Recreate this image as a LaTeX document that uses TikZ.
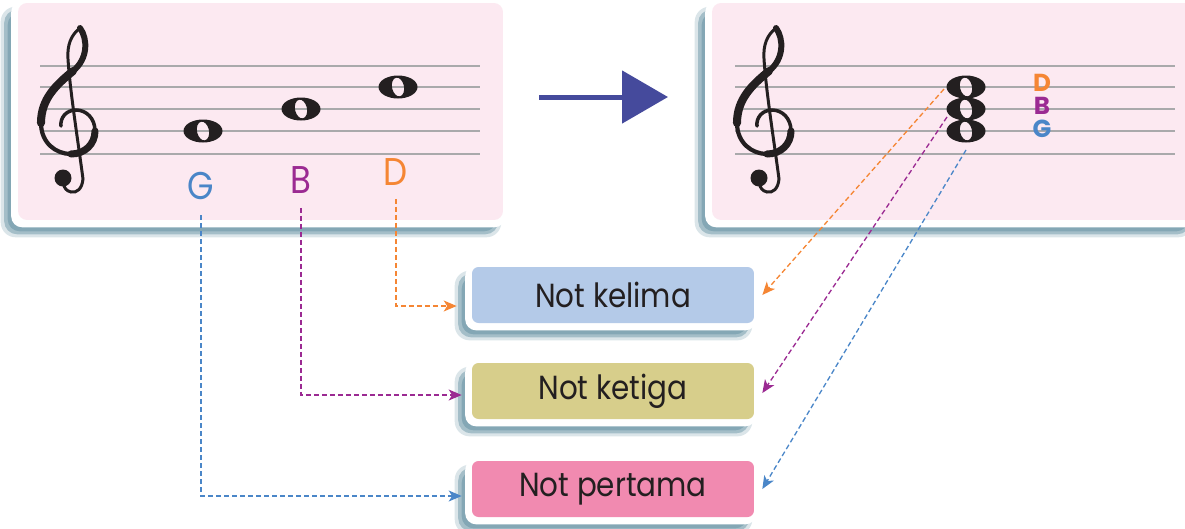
\documentclass[tikz,border=0pt]{standalone}
\usepackage{fontspec}
\setmainfont{Poppins}
\newfontfamily\narrowfont{Poppins}[FakeStretch=0.88]
\usetikzlibrary{arrows.meta,backgrounds,positioning}
\definecolor{panelpink}{HTML}{FCE9F1}
\definecolor{cardshade}{HTML}{6E98A8}
\definecolor{staffgray}{HTML}{A9A9AB}
\definecolor{arrowblue}{HTML}{454A9C}
\definecolor{inkblack}{HTML}{231F20}
\definecolor{rootblue}{HTML}{4A86C8}
\definecolor{thirdpurple}{HTML}{9B2A92}
\definecolor{fifthorange}{HTML}{F58634}
\definecolor{fifthfill}{HTML}{B4CAE8}
\definecolor{thirdfill}{HTML}{D7CE8B}
\definecolor{rootfill}{HTML}{F18AB0}
% white card with a soft shadow behind a node
\newcommand{\cardback}[1]{%
  \begin{scope}[on background layer]
    \fill[cardshade, opacity=0.25, rounded corners=0.3cm]
      ([xshift=-0.34cm,yshift=-0.34cm]#1.south west) rectangle ([xshift=-0.04cm,yshift=-0.08cm]#1.north east);
    \fill[cardshade, opacity=0.5, rounded corners=0.26cm]
      ([xshift=-0.27cm,yshift=-0.28cm]#1.south west) rectangle ([xshift=-0.1cm,yshift=-0.14cm]#1.north east);
    \fill[cardshade, opacity=0.6, rounded corners=0.24cm]
      ([xshift=-0.2cm,yshift=-0.22cm]#1.south west) rectangle ([xshift=-0.14cm,yshift=-0.2cm]#1.north east);
    \fill[white, rounded corners=0.22cm]
      ([xshift=-0.13cm,yshift=-0.14cm]#1.south west) rectangle ([xshift=0.04cm,yshift=0.03cm]#1.north east);
  \end{scope}}
\tikzset{
  panel/.style={fill=panelpink, rounded corners=0.18cm, inner sep=0pt, minimum height=4.34cm},
  namebox/.style={fill=#1, rounded corners=0.13cm, text=inkblack, inner sep=0pt,
    minimum width=5.64cm, minimum height=1.12cm, font=\narrowfont\fontsize{19}{21}\selectfont},
  notename/.style={inner sep=0pt, font=\narrowfont\fontsize{22}{24}\selectfont},
  chordname/.style={inner sep=0pt, font=\bfseries\fontsize{14}{16}\selectfont},
  staffline/.style={staffgray, line width=0.85pt},
  link/.style={dash pattern=on 1mm off 0.6mm, line width=0.75pt,
    -{Stealth[length=2.6mm,width=2.2mm,inset=0.7mm]}},
  wholenote/.pic={
    \fill[inkblack, even odd rule] (0,0) ellipse [x radius=19.5, y radius=11.5]
      (0,0) ellipse [x radius=6, y radius=9.5, rotate=12];
  },
  trebleclef/.pic={
    % stem and hook
    \draw[inkblack, line width=1.7pt, line cap=round]
      (12,-103) .. controls (3,-96) and (-1,-86) .. (0,-72)
      .. controls (2,-40) and (10,10) .. (15,48)
      .. controls (14,58) and (9,62) .. (3,61)
      .. controls (-2,60) and (-4,56) .. (-4,54);
    \fill[inkblack] (-5,47) circle (8.5);
    % spiral
    \draw[inkblack, line width=3.4pt, line cap=round]
      (12,-103) .. controls (20,-92) and (20,-72) .. (5,-60);
    \draw[inkblack, line width=4.6pt, line cap=round]
      (5,-60) .. controls (-12,-46) and (-27,-32) .. (-27,-8);
    \draw[inkblack, line width=2.4pt, line cap=round]
      (-27,-8) .. controls (-27,12) and (-12,23) .. (3,23);
    \draw[inkblack, line width=4pt, line cap=round]
      (3,23) .. controls (17,23) and (27,13) .. (27,0);
    \draw[inkblack, line width=2pt, line cap=round]
      (27,0) .. controls (27,-13) and (18,-21) .. (8,-21)
      .. controls (-2,-21) and (-8,-13) .. (-7,-5);
  }
}

\begin{document}
\begin{tikzpicture}[x=0.02cm, y=-0.02cm]
  \useasboundingbox (0,0) rectangle (1185,528);

  % the two staves
  \node[panel, minimum width=9.7cm] (lhs) at (260.5,111.5) {};
  \node[panel, minimum width=9.66cm] (rhs) at (953.5,111.5) {};
  \cardback{lhs}
  \cardback{rhs}
  \foreach \y in {66,87,109,131,154} {
    \draw[staffline] (40,\y) -- (480,\y);
    \draw[staffline] (735,\y) -- (1175,\y);
  }
  \pic at (68,131) {trebleclef};
  \pic at (764,131) {trebleclef};

  % separate notes
  \pic at (203,131) {wholenote};
  \pic at (301,109) {wholenote};
  \pic at (398,87) {wholenote};
  \node[notename, text=rootblue] (G) at (201,186) {G};
  \node[notename, text=thirdpurple] (B) at (301,180) {B};
  \node[notename, text=fifthorange] (D) at (396,172) {D};

  % the chord
  \pic at (966,131) {wholenote};
  \pic at (966,109) {wholenote};
  \pic at (966,87) {wholenote};
  \node[chordname, text=fifthorange] (cD) at (1042,83) {D};
  \node[chordname, text=thirdpurple] (cB) at (1042,106) {B};
  \node[chordname, text=rootblue] (cG) at (1042,129) {G};
  \coordinate (Dtail) at (944,89);
  \coordinate (Btail) at (947,117);
  \coordinate (Gtail) at (966,150);

  \coordinate (bigtail) at (539,97);
  \coordinate (bighead) at (668,97);
  \draw[arrowblue, line width=0.1cm, -{Triangle[length=0.92cm,width=1.04cm]}] (bigtail) -- (bighead);

  % names of the chord notes
  \node[namebox=fifthfill] (kelima) at (613,295) {Not kelima};
  \node[namebox=thirdfill] (ketiga) at (613,391) {Not ketiga};
  \node[namebox=rootfill] (pertama) at (613,489) {Not pertama};
  \cardback{kelima}
  \cardback{ketiga}
  \cardback{pertama}

  \draw[link, fifthorange, shorten <=0.26cm, shorten >=0.3cm] (D.south) |- ([yshift=-0.22cm]kelima.west);
  \draw[link, thirdpurple, shorten <=0.28cm, shorten >=0.2cm] (B.south) |- ([yshift=-0.08cm]ketiga.west);
  \draw[link, rootblue, shorten <=0.3cm, shorten >=0.2cm] (G.south) |- ([yshift=-0.14cm]pertama.west);

  \draw[link, fifthorange] (Dtail) -- ([xshift=0.16cm]kelima.east);
  \draw[link, thirdpurple] (Btail) -- ([xshift=0.16cm,yshift=-0.04cm]ketiga.east);
  \draw[link, rootblue] (Gtail) -- ([xshift=0.16cm]pertama.east);
\end{tikzpicture}
\end{document}
